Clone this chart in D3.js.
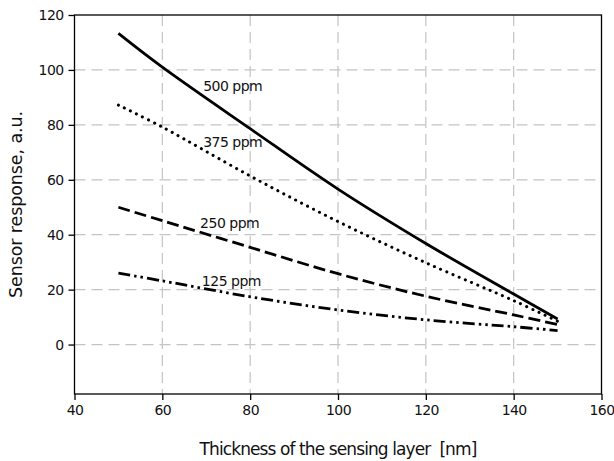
<!DOCTYPE html>
<html><head><meta charset="utf-8">
<script src="https://cdn.jsdelivr.net/npm/d3@7"></script>
<style>body{margin:0;background:#fff}text{font-family:"DejaVu Sans",sans-serif;fill:#111}</style>
</head><body><svg id="c" width="614" height="461"></svg>
<script>
const thickness = [50, 60, 80, 100, 120, 140, 150];
const ppm500 = [113.3, 101.0, 78.6, 56.6, 36.8, 18.4, 9.3];
const ppm375 = [87.2, 79.2, 61.4, 44.8, 29.8, 16.0, 8.5];
const ppm250 = [50.0, 45.1, 35.4, 25.8, 17.6, 10.8, 7.3];
const ppm125 = [26.0, 23.2, 17.4, 12.6, 9.0, 6.5, 5.1];
const seriesNames = ["500 ppm", "375 ppm", "250 ppm", "125 ppm"];
const labelPos = [[69.3, 92.3], [69.3, 71.8], [68.6, 42.5], [69, 21.3]];
const xTicks = [40, 60, 80, 100, 120, 140, 160];
const yTicks = [0, 20, 40, 60, 80, 100, 120];
const xGrid = [60, 80, 100, 120, 140];
const yGrid = [0, 20, 40, 60, 80, 100];

const svg = d3.select("#c");
const L = 74.5, R = 601.5, T = 15, B = 394;
const x = d3.scaleLinear().domain([40, 160]).range([L, R]);
const y = d3.scaleLinear().domain([-18, 120]).range([B, T]);

const g = svg.append("g");
g.selectAll(".gx").data(xGrid).join("line")
  .attr("x1", d => x(d)).attr("x2", d => x(d)).attr("y1", T).attr("y2", B)
  .attr("stroke", "#c4c4c4").attr("stroke-width", 1.2).attr("stroke-dasharray", "11,6");
g.selectAll(".gy").data(yGrid).join("line")
  .attr("x1", L).attr("x2", R).attr("y1", d => y(d)).attr("y2", d => y(d))
  .attr("stroke", "#c4c4c4").attr("stroke-width", 1.2).attr("stroke-dasharray", "11,6");

svg.append("rect").attr("x", L).attr("y", T).attr("width", R - L).attr("height", B - T)
  .attr("fill", "none").attr("stroke", "#000").attr("stroke-width", 1.3);

const xAxis = svg.append("g").attr("transform", `translate(0,${B})`)
  .call(d3.axisBottom(x).tickValues(xTicks).tickSize(6).tickPadding(5));
const yAxis = svg.append("g").attr("transform", `translate(${L},0)`)
  .call(d3.axisLeft(y).tickValues(yTicks).tickSize(6).tickPadding(5));
[xAxis, yAxis].forEach(a => {
  a.select(".domain").remove();
  a.selectAll("line").attr("stroke", "#000").attr("stroke-width", 1.3);
  a.selectAll("text").style("font-family", "DejaVu Sans, sans-serif").style("font-size", "14px")
    .style("letter-spacing", "-0.6px").attr("fill", "#111");
});

const data = [ppm500, ppm375, ppm250, ppm125];
const styles = [
  {dash: null, cap: "butt"},
  {dash: "0.1,6.6", cap: "round"},
  {dash: "12,5", cap: "butt"},
  {dash: "12,4,2.5,4,2.5,4", cap: "butt"}
];
const line = d3.line().x((d, i) => x(thickness[i])).y(d => y(d)).curve(d3.curveCatmullRom.alpha(0.5));
data.forEach((vals, k) => {
  svg.append("path").datum(vals).attr("d", line)
    .attr("fill", "none").attr("stroke", "#000")
    .attr("stroke-width", k === 1 ? 3 : 2.8)
    .attr("stroke-linecap", styles[k].cap)
    .attr("stroke-dasharray", styles[k].dash);
});

seriesNames.forEach((n, k) => {
  svg.append("text").attr("x", x(labelPos[k][0])).attr("y", y(labelPos[k][1]))
    .style("font-size", "14px").style("letter-spacing", "-0.5px").text(n);
});

svg.append("text").attr("x", 338).attr("y", 455).attr("text-anchor", "middle")
  .attr("xml:space", "preserve").style("white-space", "pre")
  .style("font-size", "17px").style("letter-spacing", "-0.9px").text("Thickness of the sensing layer  [nm]");
svg.append("text").attr("transform", `translate(22,${(T + B) / 2}) rotate(-90)`)
  .attr("text-anchor", "middle").style("font-size", "17.5px").style("letter-spacing", "-0.1px").text("Sensor response, a.u.");
</script></body></html>
